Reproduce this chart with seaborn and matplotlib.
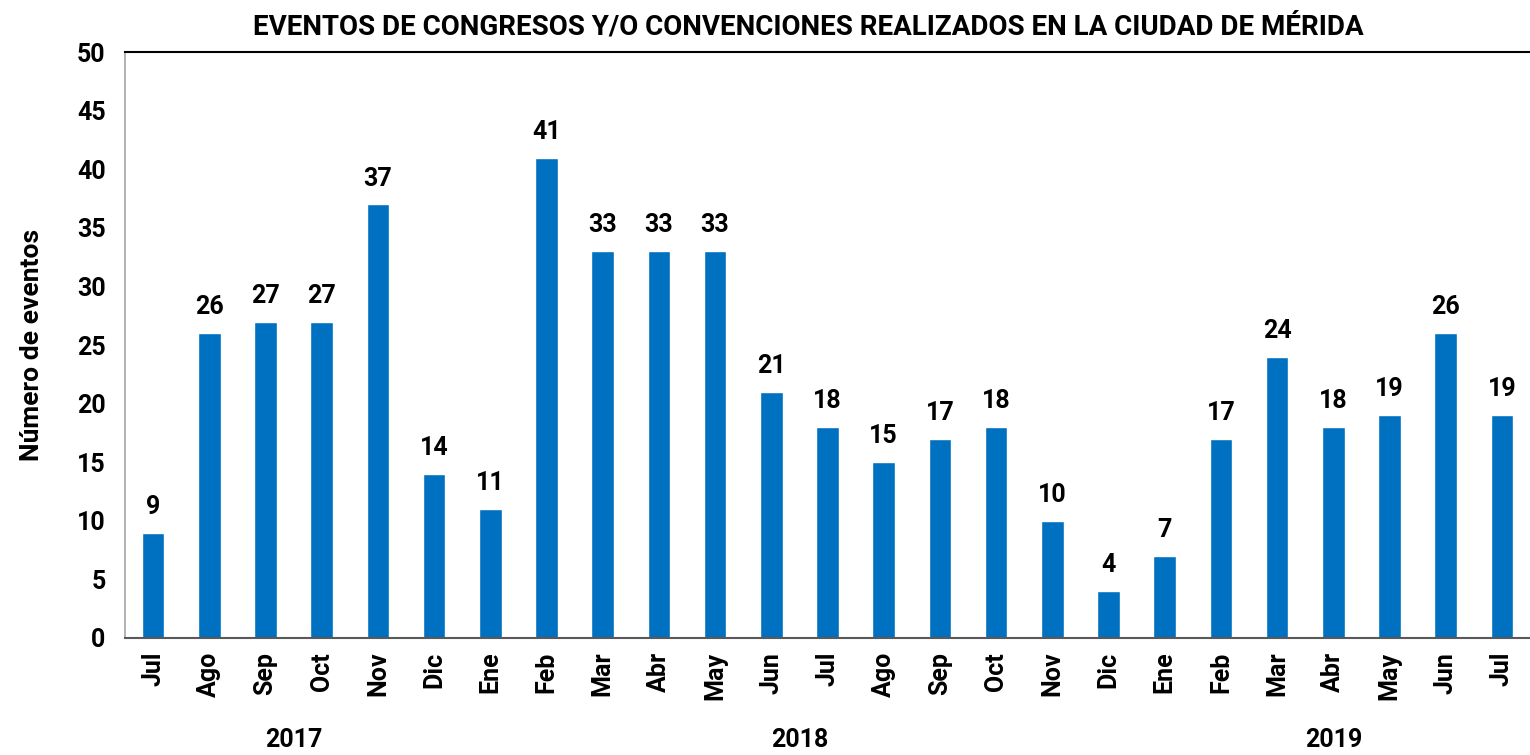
import matplotlib
matplotlib.use("Agg")
import matplotlib.pyplot as plt
import numpy as np
import pandas as pd
import seaborn as sns

sns.set_theme(style="white")
plt.rcParams["font.family"] = ["Roboto", "DejaVu Sans"]
plt.rcParams.update({
    "text.color": "black",
    "axes.labelcolor": "black",
    "xtick.labelcolor": "black",
    "ytick.labelcolor": "black",
})

# datos
MESES = ["Jul", "Ago", "Sep", "Oct", "Nov", "Dic",
         "Ene", "Feb", "Mar", "Abr", "May", "Jun", "Jul", "Ago", "Sep", "Oct", "Nov", "Dic",
         "Ene", "Feb", "Mar", "Abr", "May", "Jun", "Jul"]
ANIOS = [2017] * 6 + [2018] * 12 + [2019] * 7
EVENTOS = [9, 26, 27, 27, 37, 14, 11, 41, 33, 33, 33, 21, 18, 15, 17, 18, 10, 4, 7,
           17, 24, 18, 19, 26, 19]
AZUL = "#0070C0"
TAM = 18

df = pd.DataFrame({"mes": MESES, "anio": ANIOS, "eventos": EVENTOS})
df["periodo"] = [f"{m} {a}" for m, a in zip(df["mes"], df["anio"])]

fig = plt.figure(figsize=(15.3, 7.55), dpi=100)
ax = fig.add_axes([0.0817, 0.155, 0.9183, 0.776])

sns.barplot(data=df, x="periodo", y="eventos", color=AZUL, width=0.4,
            saturation=1, ax=ax)
ax.bar_label(ax.containers[0], padding=10, fontsize=TAM, fontweight="bold",
             color="black")

ax.set_ylim(0, 50)
ax.set_xlim(-0.5, len(df) - 0.5)
ax.set_yticks(range(0, 51, 5))
ax.set_xticks(range(len(df)))
ax.set_xticklabels(df["mes"], rotation=90, fontsize=TAM, fontweight="bold")
ax.tick_params(axis="y", labelsize=TAM, length=8, width=1, color="#a6a6a6",
               labelcolor="black", pad=6)
ax.tick_params(axis="x", length=0, pad=10, labelcolor="black")
for t in ax.get_yticklabels():
    t.set_fontweight("bold")

ax.set_xlabel("")
ax.set_ylabel("Número de eventos", fontsize=19, fontweight="bold", labelpad=24)

ax.spines["right"].set_visible(False)
ax.spines["left"].set_color("#a6a6a6")
ax.spines["left"].set_linewidth(1.2)
ax.spines["bottom"].set_color("#595959")
ax.spines["bottom"].set_linewidth(1.5)
ax.spines["top"].set_color("black")
ax.spines["top"].set_linewidth(1.5)

# etiquetas de anio centradas bajo cada grupo
for anio, grupo in df.groupby("anio"):
    centro = np.mean(grupo.index)
    ax.text(centro, -0.174, str(anio), transform=ax.get_xaxis_transform(),
            ha="center", va="center", fontsize=TAM, fontweight="bold")

fig.suptitle("EVENTOS DE CONGRESOS Y/O CONVENCIONES REALIZADOS EN LA CIUDAD DE MÉRIDA",
             x=0.528, y=0.982, fontsize=20, fontweight="bold")

fig.savefig("out.png", dpi=100)
